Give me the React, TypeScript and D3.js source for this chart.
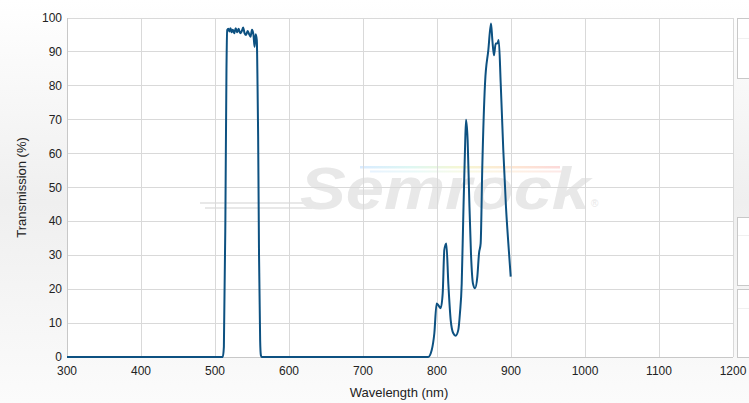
import React from "react";
import * as d3 from "d3";

const W = 749;
const H = 403;

const xTicks = [300, 400, 500, 600, 700, 800, 900, 1000, 1100, 1200];
const yTicks = [0, 10, 20, 30, 40, 50, 60, 70, 80, 90, 100];

const wavelengths = [
  300, 400, 510.5, 512, 514, 515.5, 516.5, 518, 519.5, 521, 522.5, 524, 526, 528, 530, 532, 534, 536, 538,
  540, 542, 544, 546, 548, 550, 552, 553.5, 555, 556.5, 557.5, 558.3, 559.5, 561, 562, 563, 564, 700, 788,
  792.8, 796.4, 799.5, 802, 805, 807.7, 809.9, 812.6, 815.3, 818.5, 822, 825.2, 828.8, 831, 833.4, 835.5,
  837.8, 839.2, 841.4, 843.6, 845.9, 848.6, 851.4, 854.5, 856.8, 859, 861.2, 864.9, 869.4, 873, 874.8,
  877, 879.3, 881.5, 883.4, 886.1, 889.6, 893.2, 896.4, 899.6,
];
const transmission = [
  0, 0, 0, 3, 40, 85, 96.5, 96.8, 96, 97, 95.8, 96.5, 95.5, 97, 95.8, 96.8, 95.5, 96, 97.2,
  95.5, 95, 96.2, 95.3, 94.5, 96.5, 95, 91.5, 95.2, 93.5, 80, 65, 30, 5, 0.5, 0, 0, 0, 0,
  2, 7, 15.8, 15.2, 14.4, 18.8, 31.6, 33.5, 21.7, 10.9, 7, 6.3, 8, 12.9, 21.7, 41.4,
  61, 70, 64, 46.3, 30.6, 21.7, 20.3, 23.7, 30.6, 33.5, 56, 80.7, 90.6, 98.4, 93.5,
  89, 92.5, 92.5, 93.5, 80.7, 61, 44.3, 33.5, 23.7,
];

const rainbow = ["#cfe6ff", "#d6f5f0", "#f3f5c9", "#fde2c8", "#fbd0d0"];

export default function App() {
  const left = 67;
  const right = 733;
  const top = 18;
  const bottom = 357;
  const x = d3.scaleLinear().domain([300, 1200]).range([left, right]);
  const y = d3.scaleLinear().domain([0, 100]).range([bottom, top]);
  const data = wavelengths.map((w, i) => [w, transmission[i]] as [number, number]);
  const line = d3
    .line<[number, number]>()
    .x((d) => x(d[0]))
    .y((d) => y(d[1]))
    .curve(d3.curveMonotoneX);

  const font = "'Liberation Sans', Arial, sans-serif";

  return (
    <div style={{ position: "fixed", left: 0, top: 0 }}>
      <svg width={W} height={H} style={{ display: "block" }}>
        <defs>
          <linearGradient id="bg" x1="0" y1="0" x2="0" y2="1">
            <stop offset="0" stopColor="#ffffff" />
            <stop offset="0.5" stopColor="#efefef" />
            <stop offset="1" stopColor="#fbfbfb" />
          </linearGradient>
          <linearGradient id="rb" x1="0" y1="0" x2="1" y2="0">
            {rainbow.map((c, i) => (
              <stop key={i} offset={i / (rainbow.length - 1)} stopColor={c} />
            ))}
          </linearGradient>
        </defs>
        <rect x={0} y={0} width={W} height={H} fill="url(#bg)" />
        <rect x={left} y={top} width={right - left} height={bottom - top} fill="#ffffff" />

        {/* watermark */}
        <g>
          <rect x={360} y={166} width={200} height={2.5} fill="url(#rb)" opacity={0.8} />
          <rect x={370} y={170.5} width={195} height={2} fill="url(#rb)" opacity={0.5} />
          <line x1={200} x2={310} y1={203} y2={203} stroke="#e8e8e8" strokeWidth={2} />
          <line x1={205} x2={312} y1={208} y2={208} stroke="#e8e8e8" strokeWidth={2} />
          <text
            x={300}
            y={209}
            fontFamily={font}
            fontStyle="italic"
            fontWeight="bold"
            fontSize={60}
            fill="#e8e8e8"
            textLength={290}
            lengthAdjust="spacingAndGlyphs"
          >
            Semrock
          </text>
          <text x={591} y={207} fontFamily={font} fontSize={10} fill="#e8e8e8">
            ®
          </text>
        </g>

        {/* grid */}
        {xTicks.map((t) => (
          <line key={"gx" + t} x1={x(t)} x2={x(t)} y1={top} y2={bottom} stroke="#d9d9d9" strokeWidth={1} shapeRendering="crispEdges" />
        ))}
        {yTicks.map((t) => (
          <line key={"gy" + t} x1={left} x2={right} y1={y(t)} y2={y(t)} stroke="#d9d9d9" strokeWidth={1} shapeRendering="crispEdges" />
        ))}
        <line x1={left} x2={left} y1={top} y2={bottom} stroke="#c8c8c8" shapeRendering="crispEdges" />
        <line x1={left} x2={right} y1={bottom} y2={bottom} stroke="#c8c8c8" shapeRendering="crispEdges" />

        {/* right side boxes */}
        {[
          [18, 78, 38],
          [217, 285, 235],
          [289, 357, 308],
        ].map(([a, b, c], i) => (
          <g key={"bx" + i}>
            <rect x={737.5} y={a + 0.5} width={20} height={b - a} fill="#ffffff" stroke="#c8c8c8" />
            <line x1={738} x2={749} y1={c + 0.5} y2={c + 0.5} stroke="#f0f0f0" />
          </g>
        ))}

        <path d={line(data) || ""} fill="none" stroke="#0d5181" strokeWidth={2} strokeLinejoin="round" />

        {/* tick labels */}
        {xTicks.map((t) => (
          <text key={"tx" + t} x={x(t)} y={375} textAnchor="middle" fontFamily={font} fontSize={12} fill="#222">
            {t}
          </text>
        ))}
        {yTicks.map((t) => (
          <text key={"ty" + t} x={62} y={y(t) + 4} textAnchor="end" fontFamily={font} fontSize={12} fill="#222">
            {t}
          </text>
        ))}
        <text x={399} y={397} textAnchor="middle" fontFamily={font} fontSize={13} fill="#222">
          Wavelength (nm)
        </text>
        <text
          transform={`translate(26,${(top + bottom) / 2}) rotate(-90)`}
          textAnchor="middle"
          fontFamily={font}
          fontSize={13}
          fill="#222"
        >
          Transmission (%)
        </text>
      </svg>
    </div>
  );
}
